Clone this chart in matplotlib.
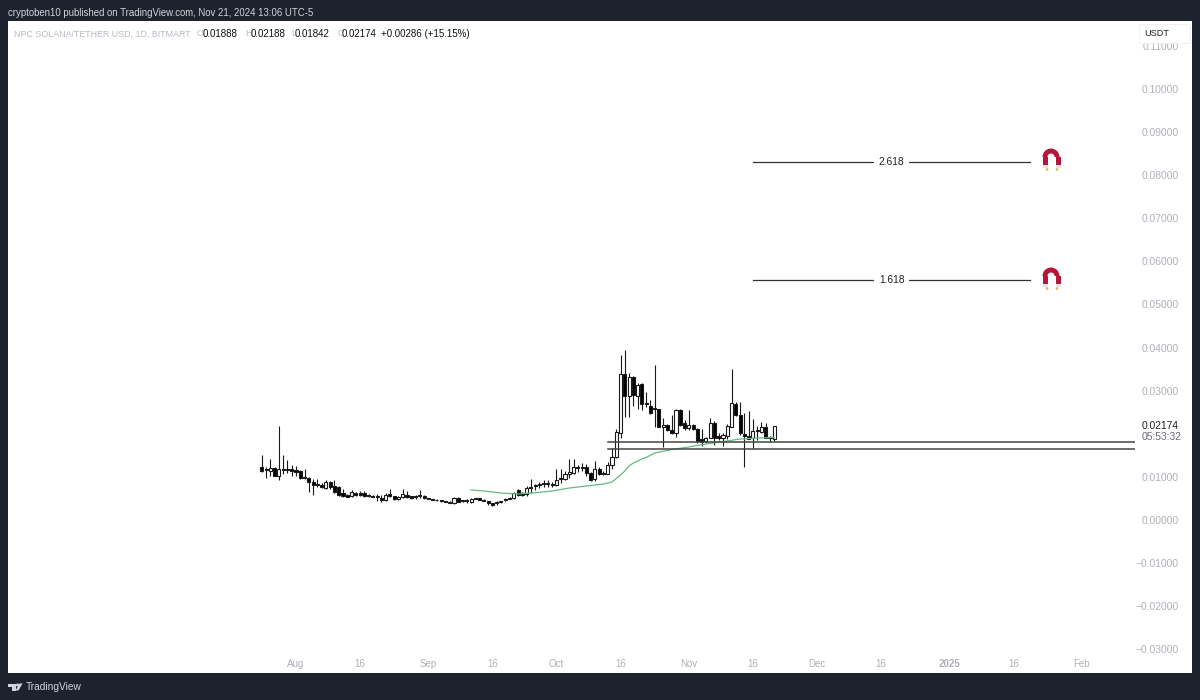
import matplotlib
matplotlib.use('Agg')
import matplotlib.pyplot as plt
import matplotlib.dates as mdates
from matplotlib.patches import Rectangle, Wedge, Circle, Polygon
import pandas as pd

plt.rcParams['font.family'] = ['Liberation Sans', 'DejaVu Sans']

# --- Candles, one per day from 2024-07-24 to 2024-11-21 ---
candle_start = '2024-07-24'
opens = [.01238,.01176,.01130,.01199,.01022,.01184,.01184,.01176,.01161,.01130,.01006,.00975,.00882,.00828,.00820,.00735,.00882,.00790,.00774,.00620,
         .00581,.00558,.00627,.00620,.00627,.00581,.00565,.00550,.00504,.00457,.00596,.00558,.00480,.00542,.00581,.00550,.00558,.00573,.00565,.00511,
         .00488,.00473,.00457,.00442,.00426,.00388,.00511,.00457,.00465,.00419,.00511,.00504,.00473,.00442,.00388,.00388,.00411,.00465,.00496,.00519,.00697,
         .00620,.00605,.00775,.00806,.00814,.00844,.00868,.00844,.00814,.00976,.00960,.01069,.01100,.01231,.01239,.01231,.01100,.00945,.01192,.01084,.01069,.01277,.01470,.02012,.03380,.02877,.03310,.02877,.03156,.02723,
         .02653,.02591,.02576,.02158,.02212,.02089,.02011,.02553,.02251,.02127,.02197,.02120,.01888,.01826,.01911,.02243,.01950,.01896,.01950,.02166,.02684,.02429,.02004,.01950,.01903,.02089,.02050,.02158,.01919,.01888]
highs = [.01509,.01238,.01408,.01238,.02189,.01509,.01393,.01277,.01253,.01161,.01176,.01006,.00944,.00944,.00867,.00929,.00906,.00929,.00790,.00712,
         .00596,.00697,.00658,.00666,.00681,.00596,.00581,.00604,.00581,.00620,.00712,.00565,.00558,.00720,.00666,.00558,.00581,.00697,.00573,.00519,
         .00496,.00480,.00473,.00450,.00442,.00542,.00527,.00465,.00480,.00504,.00519,.00511,.00480,.00450,.00403,.00434,.00450,.00511,.00534,.00658,.00728,
         .00659,.00790,.00945,.00837,.00891,.00929,.00929,.00891,.01177,.01177,.01146,.01409,.01409,.01277,.01331,.01300,.01123,.01378,.01223,.01146,.01354,.01664,.02112,.03828,.03944,.03403,.03341,.03187,.03171,.02978,
         .02784,.03596,.02583,.02359,.02228,.02437,.02568,.02568,.02321,.02553,.02228,.02127,.02120,.01919,.02359,.02298,.02011,.02011,.02228,.03496,.02738,.02738,.02475,.02537,.02336,.02182,.02282,.02259,.01950,.02188]
lows = [.01122,.00968,.01022,.01022,.00929,.01068,.01099,.01022,.01022,.00952,.00944,.00658,.00581,.00759,.00735,.00720,.00720,.00635,.00565,.00542,
        .00534,.00542,.00565,.00558,.00542,.00542,.00527,.00442,.00411,.00442,.00527,.00473,.00473,.00511,.00511,.00496,.00496,.00511,.00496,.00480,
        .00465,.00450,.00426,.00419,.00388,.00364,.00411,.00426,.00395,.00388,.00480,.00465,.00434,.00349,.00326,.00357,.00395,.00450,.00488,.00496,.00558,
        .00558,.00566,.00636,.00698,.00736,.00775,.00759,.00775,.00798,.00868,.00929,.00968,.01061,.01107,.01138,.01022,.00898,.00914,.01045,.01045,.01061,.01177,.01432,.01911,.02383,.02398,.02653,.02576,.02553,.02630,
        .02460,.02151,.02151,.01687,.02073,.01996,.01919,.02182,.02089,.02089,.02089,.01795,.01718,.01795,.01896,.01741,.01857,.01718,.01872,.02151,.02413,.01973,.01223,.01872,.01664,.01857,.02011,.01896,.01817,.01842]
closes = [.01137,.01153,.01199,.01022,.01176,.01161,.01153,.01130,.01114,.00975,.00975,.00882,.00805,.00805,.00759,.00882,.00759,.00658,.00588,.00565,
          .00542,.00651,.00588,.00581,.00565,.00558,.00542,.00534,.00465,.00581,.00558,.00480,.00542,.00604,.00527,.00511,.00527,.00550,.00504,.00488,
          .00473,.00457,.00450,.00426,.00403,.00519,.00426,.00434,.00434,.00480,.00488,.00473,.00442,.00388,.00357,.00419,.00434,.00496,.00519,.00635,.00581,
          .00589,.00752,.00744,.00783,.00844,.00868,.00844,.00821,.00929,.00953,.01069,.01123,.01231,.01208,.01208,.01100,.00929,.01177,.01069,.01061,.01269,.01463,.02050,.03380,.02877,.03310,.02900,.03132,.02692,.02692,
          .02475,.02568,.02166,.02212,.02089,.02011,.02553,.02205,.02127,.02197,.02120,.01841,.01803,.01911,.02243,.01896,.01911,.01965,.02174,.02707,.02429,.02011,.01950,.01888,.02066,.02066,.02158,.01911,.01896,.02174]

# --- Moving average ---
ma_dates = ['2024-09-11','2024-09-14','2024-09-18','2024-09-22','2024-09-26','2024-09-30','2024-10-04','2024-10-08','2024-10-12','2024-10-14',
            '2024-10-16','2024-10-17','2024-10-18','2024-10-19','2024-10-20','2024-10-21','2024-10-22','2024-10-24','2024-10-28','2024-11-01','2024-11-05','2024-11-09','2024-11-13','2024-11-17','2024-11-21']
ma_values = [.00696,.00673,.00626,.00603,.00633,.00673,.00742,.00789,.00835,.00882,
             .01044,.01137,.01253,.01323,.01369,.01415,.01450,.01555,.01636,.01694,.01763,.01821,.01879,.01903,.01914]

# --- Horizontal levels ---
level_prices = [.01810,.01654]
level_start = '2024-10-13'
level_end = '2025-03-01'
fib_labels = ['2.618','1.618']
fib_prices = [.08295,.05580]
fib_start = '2024-11-16'
fib_end = '2025-01-20'

# --- Axis labels ---
price_ticks = [.11,.10,.09,.08,.07,.06,.05,.04,.03,.01,0,-.01,-.02,-.03]
date_ticks = ['2024-08-01','2024-08-16','2024-09-01','2024-09-16','2024-10-01','2024-10-16','2024-11-01','2024-11-16','2024-12-01','2024-12-16','2025-01-01','2025-01-16','2025-02-01']
date_labels = ['Aug','16','Sep','16','Oct','16','Nov','16','Dec','16','2025','16','Feb']

DARK = '#1e222d'
LABEL = '#aeb1b9'
INK = '#1a1a1a'

fig = plt.figure(figsize=(12, 7), dpi=100, facecolor=DARK)
fig.patches.append(Rectangle((8/1200, 1-673/700), 1184/1200, 652.5/700, transform=fig.transFigure, facecolor='white', edgecolor='none', zorder=-1))

# === Price chart ===
ax = fig.add_axes([8/1200, 1-655/700, 1127/1200, 635/700], zorder=1)
ax.patch.set_alpha(0)
for spine in ax.spines.values():
    spine.set_visible(False)

dates = pd.date_range(candle_start, periods=len(opens))
bottoms = [min(o, c) for o, c in zip(opens, closes)]
heights = [abs(o - c) for o, c in zip(opens, closes)]
body_colors = ['white' if c > o else 'black' for o, c in zip(opens, closes)]

ax.vlines(dates, lows, highs, color=INK, linewidth=0.8, zorder=2)
ax.bar(dates, heights, bottom=bottoms, width=0.72, color=body_colors, edgecolor=INK, linewidth=0.8, zorder=3)

ax.plot(pd.to_datetime(ma_dates), ma_values, color='#63b97e', linewidth=0.9, zorder=4)

for price in level_prices:
    ax.plot(pd.to_datetime([level_start, level_end]), [price, price], color='#444444', linewidth=1.1, zorder=5)

fib_x = pd.to_datetime([fib_start, fib_end])
for label, price in zip(fib_labels, fib_prices):
    ax.plot(fib_x, [price, price], color='#333333', linewidth=0.9, zorder=5)
    ax.text(fib_x[0] + (fib_x[1] - fib_x[0]) / 2, price, label, fontsize=7.4, color='#222222', ha='center', va='center',
            bbox=dict(facecolor='white', edgecolor='none', pad=3.5), zorder=6)

# 1px = 1/4.27 days, 1px = 1/4310 price
x0 = mdates.date2num(pd.Timestamp('2024-08-01'))
ax.set_xlim(x0 + (8 - 296) / 4.27, x0 + (1135 - 296) / 4.27)
ax.set_ylim((520 - 655) / 4310, (520 - 20) / 4310)

ax.yaxis.tick_right()
ax.set_yticks(price_ticks)
ax.set_yticklabels([f'{p:.5f}'.replace('-', '\u2212') for p in price_ticks], ha='right')
ax.tick_params(axis='y', length=0, pad=31.7, labelsize=7.4, labelcolor=LABEL)

ax.set_xticks(pd.to_datetime(date_ticks))
ax.set_xticklabels(date_labels)
ax.tick_params(axis='x', length=0, pad=3, labelsize=7, labelcolor=LABEL)
for tick_label in ax.get_xticklabels():
    if tick_label.get_text() == '2025':
        tick_label.set_fontweight('bold')

# === Header, footer and overlays, in picture pixels ===
px = fig.add_axes([0, 0, 1, 1], zorder=2)
px.set_xlim(0, 1200)
px.set_ylim(700, 0)
px.axis('off')

px.text(8, 13, 'cryptoben10 published on TradingView.com, Nov 21, 2024 13:06 UTC-5', fontsize=6.9, color='#d1d4dc', va='center')
px.text(14, 34, 'NPC SOLANA/TETHER USD, 1D, BITMART', fontsize=6.4, color='#b8bbc3', va='center')

legend_letters = [('O', 197, 203, '0.01888'), ('H', 245, 251, '0.02188'), ('L', 291, 295, '0.01842'), ('C', 337, 342, '0.02174')]
for letter, letter_x, value_x, value in legend_letters:
    px.text(letter_x, 34, letter, fontsize=6.4, color='#b8bbc3', va='center')
    px.text(value_x, 34, value, fontsize=7, color='#111111', va='center')
px.text(381, 34, '+0.00286 (+15.15%)', fontsize=7, color='#111111', va='center')

px.add_patch(Rectangle((1138.5, 23.5), 51.5, 19.5, facecolor='white', edgecolor='#f0f0f0', linewidth=0.7, alpha=0.85))
px.text(1157, 33, 'USDT', fontsize=6.6, color='#222222', ha='center', va='center')

px.text(1142, 426, '0.02174', fontsize=7.4, color='#222222', va='center')
px.text(1142, 437, '05:53:32', fontsize=7.4, color='#6a6d75', va='center')

# magnets next to the fib lines
for my in [157, 276]:
    for leg_x in [1042.5, 1055.5]:
        px.add_patch(Rectangle((leg_x, my), 5, 8, facecolor='#b5173c', edgecolor='none'))
        px.add_patch(Rectangle((leg_x, my + 8), 5, 2.5, facecolor='#e4e4e8', edgecolor='none'))
    px.add_patch(Wedge((1051, my), 8.5, 180, 360, width=5, facecolor='#b5173c', edgecolor='none'))
    for dot_x in [1047, 1057]:
        px.add_patch(Circle((dot_x, my + 12.5), 1.4, facecolor='#f2b35c', edgecolor='none'))

# TradingView logo
logo = '#d1d4dc'
px.add_patch(Polygon([(7.5, 683.5), (15.5, 683.5), (15.5, 690.5), (11.5, 690.5), (11.5, 686.5), (7.5, 686.5)], facecolor=logo, edgecolor='none'))
px.add_patch(Circle((17.5, 685), 1.5, facecolor=logo, edgecolor='none'))
px.add_patch(Polygon([(19.5, 683.5), (22.5, 683.5), (18.5, 690.5), (15.5, 690.5)], facecolor=logo, edgecolor='none'))
px.text(26, 687, 'TradingView', fontsize=7.3, color='#d1d4dc', va='center')

fig.savefig('out.png', dpi=100, facecolor=DARK)
